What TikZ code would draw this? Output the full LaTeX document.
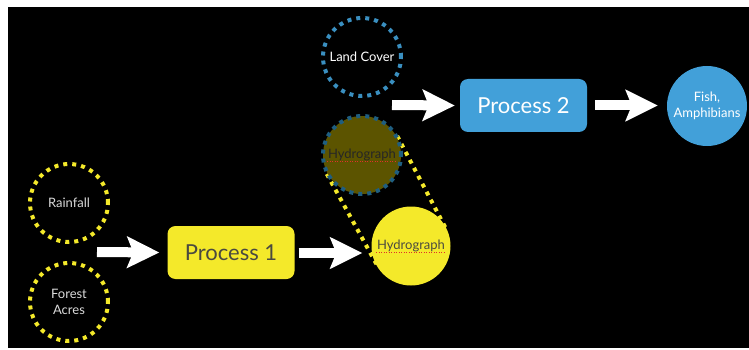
\documentclass[tikz,border=0pt]{standalone}
\usepackage{fontspec}
\setmainfont{Lato}
\usetikzlibrary{arrows.meta,calc}
\definecolor{procblue}{HTML}{42A0D9}
\definecolor{dotblue}{HTML}{3A8FC0}
\definecolor{darkdot}{HTML}{1F5E80}
\definecolor{ylw}{HTML}{F4E92A}
\definecolor{olive}{HTML}{5C5400}
\definecolor{labelgray}{HTML}{DADADA}
\definecolor{boxtext}{HTML}{4A4A40}
\definecolor{spellred}{HTML}{E0302A}
\begin{document}
\begin{tikzpicture}[x=1pt,y=-1pt,
  dotcircle/.style={circle, minimum size=78pt, inner sep=0pt, line width=4pt,
    dash pattern=on 4pt off 5pt, align=center, font=\fontsize{13}{15.5}\selectfont},
  filledcircle/.style={circle, minimum size=80pt, inner sep=0pt, align=center,
    font=\fontsize{13}{15.5}\selectfont},
  procbox/.style={rounded corners=8pt, minimum width=127pt, minimum height=53pt,
    inner sep=0pt, font=\fontsize{22}{26}\selectfont},
  bigarrow/.style={draw=white, line width=10pt,
    -{Stealth[length=32pt, width=31pt, inset=6pt]}},
  tangent/.style={draw=ylw, line width=4pt, dash pattern=on 4pt off 5pt},
  spell/.style={draw=spellred, line width=0.7pt, dash pattern=on 1pt off 1.5pt}]
  % page background
  \fill[white] (0,0) rectangle (749,350);
  \fill[black] (8,7) rectangle (749,348);
  \useasboundingbox (0,0) rectangle (749,350);

  % centres of the two hydrograph circles, used for the tangents
  \coordinate (hdc) at (362,155);
  \coordinate (hyc) at (411,246);

  % dotted tangent lines joining the two hydrographs
  \draw[tangent] ($(hdc)!40pt!90:(hyc)$) -- ($(hyc)!39pt!-90:(hdc)$);
  \draw[tangent] ($(hdc)!40pt!-90:(hyc)$) -- ($(hyc)!39pt!90:(hdc)$);

  % inputs
  \node[dotcircle, draw=ylw, text=labelgray] (rain) at (69,203) {Rainfall};
  \node[dotcircle, draw=ylw, text=labelgray] (forest) at (69,302) {Forest\\Acres};
  \node[dotcircle, draw=dotblue, text=white] (land) at (362,57) {Land Cover};

  % hydrographs, with the spell-check underline beneath the word
  \node[dotcircle, draw=darkdot, fill=olive] (hdark) at (hdc) {};
  \draw[spell] ($(hdark.center)+(-35,6)$) -- ++(70,0);
  \node[text=black!85, font=\fontsize{13}{15.5}\selectfont] (hdarkt) at (hdc) {Hydrograph};
  \node[filledcircle, fill=ylw, minimum size=79pt] (hyel) at (hyc) {};
  \draw[spell] ($(hyel.center)+(-35,6)$) -- ++(70,0);
  \node[text=boxtext, font=\fontsize{13}{15.5}\selectfont] (hyelt) at (hyc) {Hydrograph};

  % processes and output
  \node[procbox, fill=ylw, text=boxtext] (p1) at (231,252.5) {Process 1};
  \node[procbox, fill=procblue, text=white] (p2) at (523.5,105.5) {Process 2};
  \node[filledcircle, fill=procblue, text=white] (fish) at (707,106) {Fish,\\Amphibians};

  % free ends of the input arrows
  \coordinate (in1) at (97,252);
  \coordinate (in2) at (392,105);

  % arrows
  \draw[bigarrow] (in1) -- ([xshift=-8pt]p1.west);
  \draw[bigarrow] ([xshift=4pt]p1.east) ++(0,0.5) -- ($(p1.east -| hyel.west)+(-9,0.5)$);
  \draw[bigarrow] (in2) -- ([xshift=-5pt]p2.west);
  \draw[bigarrow] ([xshift=8pt]p2.east) -- ($(p2.east -| fish.west)+(-9,0)$);
\end{tikzpicture}
\end{document}
